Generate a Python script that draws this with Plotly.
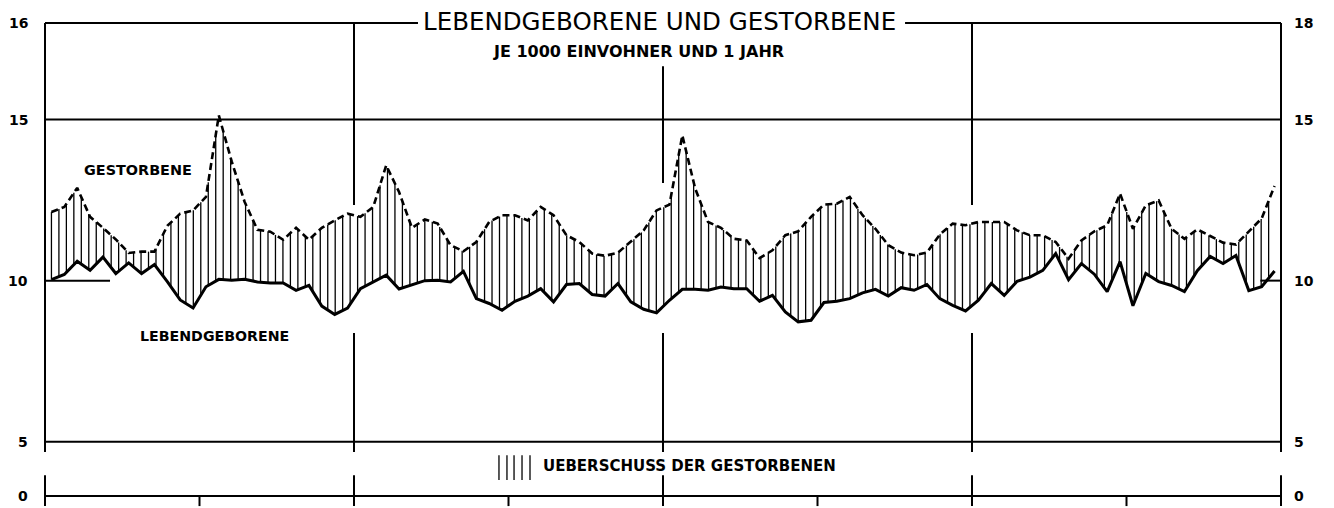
import numpy as np
import plotly.graph_objects as go

# ---------------- data (per 1000 inhabitants and year, monthly, 8 years) ----------------
gestorbene = [
    12.13, 12.29, 12.88, 11.98, 11.64, 11.28, 10.86, 10.90, 10.90, 11.70, 12.08, 12.18,
    12.60, 15.13, 13.70, 12.45, 11.58, 11.52, 11.27, 11.64, 11.27, 11.64, 11.87, 12.08,
    11.98, 12.29, 13.58, 12.75, 11.64, 11.90, 11.77, 11.10, 10.91, 11.20, 11.82, 12.03,
    12.03, 11.87, 12.29, 12.03, 11.41, 11.20, 10.84, 10.77, 10.87, 11.20, 11.56, 12.18,
    12.36, 14.51, 12.86, 11.82, 11.64, 11.30, 11.25, 10.70, 10.94, 11.41, 11.53, 11.98,
    12.36, 12.39, 12.60, 12.03, 11.61, 11.10, 10.87, 10.79, 10.87, 11.43, 11.77, 11.72,
    11.82, 11.82, 11.82, 11.56, 11.41, 11.41, 11.20, 10.68, 11.25, 11.53, 11.72, 12.70,
    11.61, 12.34, 12.49, 11.61, 11.30, 11.59, 11.39, 11.18, 11.12, 11.51, 11.93, 12.94,
]
lebendgeborene = [
    10.03, 10.19, 10.60, 10.32, 10.73, 10.22, 10.55, 10.22, 10.50, 9.97, 9.40, 9.15,
    9.81, 10.04, 10.01, 10.04, 9.96, 9.93, 9.93, 9.70, 9.85, 9.21, 8.95, 9.15,
    9.75, 9.97, 10.17, 9.74, 9.87, 10.00, 10.01, 9.96, 10.29, 9.44, 9.29, 9.08,
    9.36, 9.52, 9.75, 9.34, 9.88, 9.91, 9.57, 9.52, 9.91, 9.34, 9.11, 9.00,
    9.39, 9.73, 9.73, 9.70, 9.80, 9.75, 9.75, 9.36, 9.54, 9.03, 8.72, 8.77,
    9.32, 9.36, 9.44, 9.62, 9.73, 9.52, 9.78, 9.70, 9.88, 9.44, 9.23, 9.06,
    9.39, 9.91, 9.54, 9.98, 10.11, 10.32, 10.84, 10.03, 10.53, 10.20, 9.66, 10.59,
    9.22, 10.22, 9.97, 9.85, 9.66, 10.31, 10.75, 10.53, 10.78, 9.69, 9.81, 10.30,
]
month_index = list(range(len(gestorbene)))

y_tick_vals = [18, 15, 10, 5]
left_tick_text = ["16", "15", "10", "5"]
right_tick_text = ["18", "15", "10", "5"]
zero_label = "0"

title_text = "LEBENDGEBORENE UND GESTORBENE"
subtitle_text = "JE 1000 EINVOHNER UND 1 JAHR"
label_g = "GESTORBENE"
label_l = "LEBENDGEBORENE"
legend_text = "UEBERSCHUSS DER GESTORBENEN"

# ---------------- layout constants (axis units) ----------------
X0, X1 = 0, 96
Y_TOP = 18
ZERO_POS = 3.31          # broken axis: position of the "0" line
Y_UPPER_END = 4.68       # lower end of upper panel verticals
Y_LOWER_START = 3.96     # upper end of lower panel verticals
Y_BOTTOM = 3.0
GAP_HI, GAP_LO = 12.35, 8.37   # verticals are interrupted around the curves
TITLE_GAP = (28.97, 66.8)
HATCH_STEP = 0.58

x = np.array(month_index) + 0.5
g = np.array(gestorbene)
l = np.array(lebendgeborene)

fig = go.Figure()

# hatching (excess of deaths)
hx = np.arange(x[0], x[-1] + 1e-9, HATCH_STEP)
hg = np.interp(hx, x, g)
hl = np.interp(hx, x, l)
xs, ys = [], []
for a, b, c in zip(hx, hl, hg):
    xs += [a, a, None]
    ys += [b, c, None]
fig.add_trace(go.Scatter(x=xs, y=ys, mode="lines", line=dict(color="black", width=1.3),
                         hoverinfo="skip", showlegend=False))

fig.add_trace(go.Scatter(x=x, y=g, mode="lines", name=label_g,
                         line=dict(color="black", width=2.6, dash="7px,4px"), showlegend=False))
fig.add_trace(go.Scatter(x=x, y=l, mode="lines", name=label_l,
                         line=dict(color="black", width=3), showlegend=False))

shapes = []
def seg(x0, x1, y0, y1, w=2):
    shapes.append(dict(type="line", xref="x", yref="y", x0=x0, x1=x1, y0=y0, y1=y1,
                       line=dict(color="black", width=w)))

# horizontal frame lines
seg(X0, TITLE_GAP[0], Y_TOP, Y_TOP)
seg(TITLE_GAP[1], X1, Y_TOP, Y_TOP)
seg(X0, X1, 15, 15)
seg(X0, X1, 5, 5)
seg(X0, X1, ZERO_POS, ZERO_POS)
# short reference stubs at 10
seg(X0, 5.05, 10, 10)
seg(94.4, X1, 10, 10)
# side axes
for xv in (X0, X1):
    seg(xv, xv, Y_TOP, Y_UPPER_END)
    seg(xv, xv, Y_LOWER_START, Y_BOTTOM)
# two-year verticals
seg(24, 24, Y_TOP, GAP_HI)
seg(48, 48, 16.66, 13.03)
seg(72, 72, Y_TOP, GAP_HI)
for xv in (24, 48, 72):
    seg(xv, xv, GAP_LO, Y_UPPER_END)
    seg(xv, xv, Y_LOWER_START, Y_BOTTOM)
# yearly ticks
for xv in (12, 36, 60, 84):
    seg(xv, xv, ZERO_POS, Y_BOTTOM)
# legend glyph
for xv in (35.26, 35.88, 36.43, 37.05, 37.67):
    seg(xv, xv, 4.58, 3.81, w=1.3)

ann = []
tick_font = dict(family="DejaVu Sans", size=14, color="black")
for v, lt, rt in zip(y_tick_vals, left_tick_text, right_tick_text):
    ann.append(dict(x=X0, y=v, xref="x", yref="y", text=f"<b>{lt}</b>", showarrow=False,
                    xanchor="right", xshift=-15, font=tick_font))
    ann.append(dict(x=X1, y=v, xref="x", yref="y", text=f"<b>{rt}</b>", showarrow=False,
                    xanchor="left", xshift=11, font=tick_font))
ann.append(dict(x=X0, y=ZERO_POS, xref="x", yref="y", text=f"<b>{zero_label}</b>", showarrow=False,
                xanchor="right", xshift=-15, font=tick_font))
ann.append(dict(x=X1, y=ZERO_POS, xref="x", yref="y", text=f"<b>{zero_label}</b>", showarrow=False,
                xanchor="left", xshift=11, font=tick_font))

ann.append(dict(x=47.69, y=18.06, xref="x", yref="y", text=title_text, showarrow=False,
                font=dict(family="DejaVu Sans", size=24.5, color="black")))
ann.append(dict(x=46.06, y=17.13, xref="x", yref="y", text=f"<b>{subtitle_text}</b>", showarrow=False,
                font=dict(family="DejaVu Sans", size=16, color="black")))
ann.append(dict(x=7.22, y=13.43, xref="x", yref="y", text=f"<b>{label_g}</b>", showarrow=False,
                font=dict(family="DejaVu Sans", size=14.4, color="black")))
ann.append(dict(x=13.13, y=8.28, xref="x", yref="y", text=f"<b>{label_l}</b>", showarrow=False,
                font=dict(family="DejaVu Sans", size=14.2, color="black")))
ann.append(dict(x=38.52, y=4.24, xref="x", yref="y", text=f"<b>{legend_text}</b>", showarrow=False,
                xanchor="left", font=dict(family="DejaVu Sans", size=15, color="black")))

# the page body has an 8 px margin, so the figure is drawn 8 px smaller and offset
fig.update_layout(
    width=1326, height=500,
    margin=dict(l=27, r=43, t=5, b=0),
    paper_bgcolor="white", plot_bgcolor="white",
    xaxis=dict(range=[-0.777, 96.777], visible=False, fixedrange=True),
    yaxis=dict(range=[2.94, 18.31], visible=False, fixedrange=True),
    shapes=shapes, annotations=ann, showlegend=False,
)

fig.write_html("out.html")
